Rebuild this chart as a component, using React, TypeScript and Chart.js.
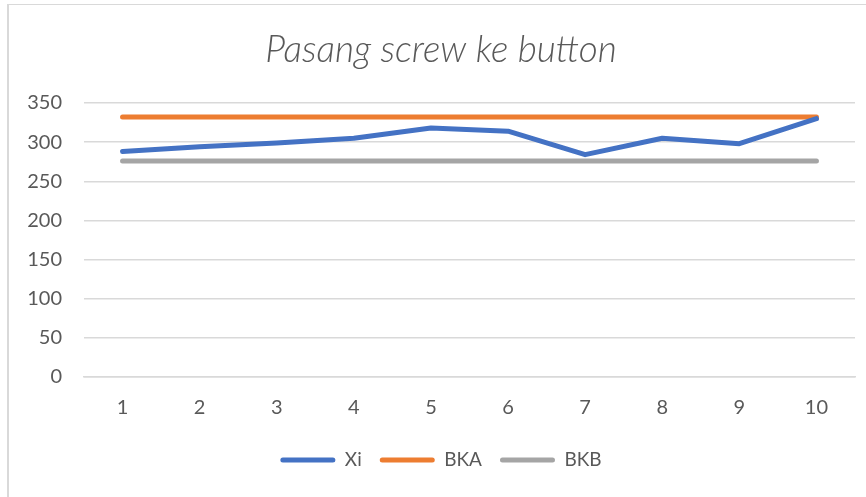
import React, { useEffect, useRef } from "react";
import { Chart, registerables } from "chart.js";

Chart.register(...registerables);

const categories = ["1", "2", "3", "4", "5", "6", "7", "8", "9", "10"];
const xiValues = [288, 294, 299, 305, 318, 314, 284, 305, 298, 330];
const bkaValues = [332, 332, 332, 332, 332, 332, 332, 332, 332, 332];
const bkbValues = [276, 276, 276, 276, 276, 276, 276, 276, 276, 276];
const seriesNames = ["Xi", "BKA", "BKB"];
const seriesColors = ["#4472C4", "#ED7D31", "#A5A5A5"];
const titleText = "Pasang screw ke button";

const FONT = "Lato, 'Liberation Sans', sans-serif";
const TEXT = "#595959";
const GRID = "#d9d9d9";

export default function App() {
  const ref = useRef<HTMLCanvasElement | null>(null);
  useEffect(() => {
    if (!ref.current) return;
    const values = [xiValues, bkaValues, bkbValues];
    const chart = new Chart(ref.current, {
      type: "line",
      data: {
        labels: categories,
        datasets: seriesNames.map((name, i) => ({
          label: name,
          data: values[i],
          borderColor: seriesColors[i],
          backgroundColor: seriesColors[i],
          borderWidth: 5,
          pointRadius: 0,
          pointHoverRadius: 0,
          borderCapStyle: "round" as const,
          borderJoinStyle: "round" as const,
          tension: 0,
          fill: false,
        })),
      },
      options: {
        animation: false,
        responsive: true,
        maintainAspectRatio: false,
        layout: { padding: { left: 27, right: 11, top: 0, bottom: 17.5 } },
        plugins: {
          tooltip: { enabled: false },
          title: {
            display: true,
            text: titleText,
            color: TEXT,
            font: { family: FONT, size: 37, style: "italic", weight: "300" as any },
            padding: { top: 28, bottom: 30.6 },
          },
          legend: {
            position: "bottom",
            labels: {
              color: TEXT,
              font: { family: FONT, size: 19 },
              boxWidth: 55,
              boxHeight: 5,
              padding: 18,
              useBorderRadius: true,
              borderRadius: 2.5,
              generateLabels: (c: any) =>
                Chart.defaults.plugins.legend.labels
                  .generateLabels(c)
                  .map((l: any) => ({ ...l, lineWidth: 0 })),
            },
          },
        },
        scales: {
          x: {
            offset: true,
            grid: { display: false, drawTicks: false },
            border: { display: true, color: GRID, width: 1.5 },
            ticks: { color: TEXT, font: { family: FONT, size: 20 }, padding: 19 },
            afterFit: (s: any) => {
              s.height = 55.5;
            },
          },
          y: {
            min: 0,
            max: 350,
            ticks: { stepSize: 50, color: TEXT, font: { family: FONT, size: 20 }, padding: 22 },
            grid: { color: GRID, lineWidth: 1.5, drawTicks: false },
            border: { display: false },
            afterFit: (s: any) => {
              s.width = 57;
            },
          },
        },
      },
    });
    return () => chart.destroy();
  }, []);

  return (
    <div style={{ position: "absolute", left: 0, top: 0, width: 866, height: 497, background: "#fff", overflow: "hidden" }}>
      <div
        style={{
          position: "absolute",
          left: 7,
          top: 4,
          width: 900,
          height: 600,
          borderTop: "1px solid #d9d9d9",
          borderLeft: "2px solid #d9d9d9",
        }}
      />
      <div style={{ position: "absolute", left: 0, top: 0, width: 866, height: 497 }}>
        <canvas ref={ref} />
      </div>
    </div>
  );
}
